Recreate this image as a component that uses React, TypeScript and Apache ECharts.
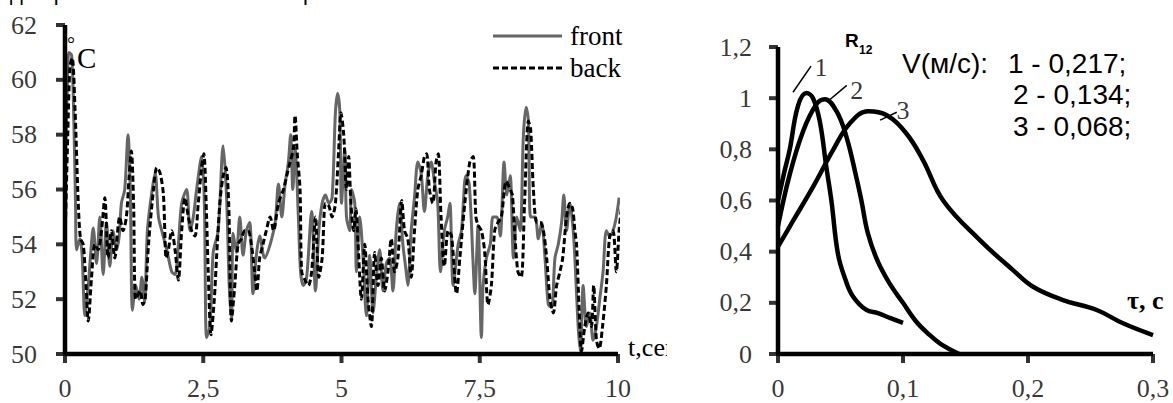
import React, { useEffect, useRef } from "react";
import * as echarts from "echarts";

// ---------- Left chart: temperature, front / back ----------
const frontT = [0.00,0.04,0.07,0.12,0.16,0.19,0.21,0.27,0.31,0.36,0.42,0.47,0.51,0.57,0.63,0.69,0.75,0.81,0.87,0.93,0.98,1.02,1.08,1.14,1.18,1.22,1.28,1.34,1.39,1.44,1.49,1.57,1.63,1.69,1.75,1.84,1.93,1.99,2.05,2.11,2.20,2.26,2.32,2.38,2.47,2.52,2.56,2.62,2.68,2.77,2.86,2.92,2.97,3.01,3.04,3.10,3.16,3.22,3.28,3.34,3.40,3.46,3.52,3.61,3.71,3.80,3.86,3.92,3.98,4.04,4.08,4.12,4.16,4.22,4.26,4.31,4.37,4.46,4.53,4.59,4.65,4.71,4.77,4.83,4.89,4.93,4.97,5.00,5.06,5.09,5.15,5.18,5.24,5.27,5.33,5.39,5.45,5.51,5.57,5.63,5.69,5.75,5.81,5.87,5.93,5.99,6.05,6.11,6.17,6.20,6.26,6.32,6.38,6.44,6.50,6.56,6.62,6.68,6.74,6.79,6.86,6.92,6.96,7.02,7.11,7.17,7.25,7.31,7.38,7.41,7.47,7.53,7.56,7.62,7.69,7.74,7.81,7.87,7.94,7.99,8.05,8.11,8.17,8.23,8.29,8.34,8.38,8.42,8.50,8.56,8.62,8.68,8.74,8.80,8.86,8.92,8.98,9.02,9.07,9.13,9.19,9.22,9.28,9.32,9.37,9.43,9.49,9.55,9.61,9.67,9.73,9.79,9.85,9.91,9.97,10.02];
const frontV = [56.5,59.5,61.0,60.9,58.5,55.5,53.8,54.2,53.6,51.4,52.5,53.8,54.6,53.3,55.0,52.9,54.8,53.2,54.5,53.8,54.3,55.5,56.0,58.0,56.0,51.6,52.5,52.0,52.8,51.9,54.5,55.9,56.6,55.0,54.5,53.8,53.0,52.9,54.0,55.5,56.0,54.5,55.0,56.0,57.2,55.5,50.6,51.0,53.7,54.5,57.6,55.8,52.5,51.3,54.4,53.7,55.0,53.6,54.5,54.8,52.2,53.6,54.3,53.5,54.0,54.8,56.2,55.0,56.2,57.0,58.0,56.0,57.5,55.0,53.0,52.5,52.8,55.2,52.3,54.5,55.5,55.8,55.5,55.7,58.8,59.5,58.8,55.5,57.5,55.0,54.5,56.0,55.5,53.0,55.0,53.5,51.4,53.6,51.5,52.8,53.8,52.3,53.3,53.5,52.3,54.5,55.5,54.0,53.0,52.5,54.5,55.7,57.0,56.6,55.2,56.5,57.0,56.3,55.5,53.0,54.5,55.0,55.5,52.5,54.0,54.5,56.5,56.2,53.3,52.2,54.7,50.6,52.5,53.5,54.0,55.0,55.0,54.3,57.0,55.8,56.5,53.5,55.0,54.5,58.0,59.0,58.5,55.0,55.0,54.2,54.8,53.5,51.8,51.7,53.5,54.0,54.8,55.8,54.5,55.5,54.5,53.5,51.0,50.1,52.5,51.0,51.5,50.5,51.0,52.0,53.0,54.5,54.3,54.5,55.0,55.7];

const backT = [0.00,0.05,0.09,0.13,0.18,0.24,0.28,0.33,0.38,0.42,0.48,0.54,0.60,0.66,0.72,0.78,0.84,0.90,0.99,1.05,1.11,1.16,1.20,1.24,1.28,1.36,1.41,1.45,1.51,1.60,1.66,1.72,1.78,1.83,1.87,1.93,1.99,2.05,2.11,2.17,2.23,2.29,2.35,2.41,2.47,2.51,2.56,2.59,2.64,2.70,2.74,2.80,2.86,2.91,2.96,3.01,3.07,3.13,3.19,3.25,3.31,3.37,3.43,3.47,3.52,3.58,3.64,3.71,3.77,3.86,3.95,4.01,4.07,4.13,4.16,4.20,4.25,4.28,4.34,4.40,4.46,4.53,4.59,4.65,4.71,4.77,4.83,4.89,4.95,4.99,5.04,5.09,5.13,5.17,5.22,5.26,5.30,5.36,5.42,5.48,5.54,5.60,5.66,5.72,5.78,5.84,5.90,5.96,6.02,6.09,6.14,6.20,6.26,6.32,6.38,6.44,6.50,6.54,6.59,6.65,6.71,6.75,6.80,6.86,6.93,6.99,7.08,7.14,7.23,7.32,7.38,7.43,7.47,7.53,7.59,7.65,7.71,7.77,7.83,7.89,7.98,8.05,8.09,8.13,8.19,8.25,8.31,8.38,8.42,8.47,8.53,8.59,8.65,8.71,8.77,8.83,8.89,8.95,9.00,9.07,9.13,9.18,9.22,9.25,9.30,9.34,9.40,9.46,9.52,9.56,9.61,9.66,9.72,9.79,9.85,9.91,9.97,10.02,10.06];
const backV = [54.0,58.0,60.5,60.8,59.0,55.5,54.2,54.0,52.5,51.2,52.8,54.0,53.8,54.5,55.7,53.5,54.5,53.5,55.0,54.5,55.0,56.5,57.4,55.5,52.0,52.3,51.8,52.0,54.0,56.0,56.8,56.6,55.8,53.5,53.8,54.5,53.8,52.7,54.5,55.7,55.0,54.5,54.3,55.5,56.8,57.3,55.0,53.0,50.7,52.0,53.5,55.5,56.5,56.8,55.5,51.2,52.5,54.0,54.2,54.5,54.5,54.0,53.0,52.3,53.5,54.0,54.5,55.0,54.5,55.5,56.0,56.5,57.0,57.5,58.7,57.3,56.0,53.0,52.7,52.5,53.0,55.0,52.8,53.5,55.5,55.4,55.0,55.5,57.5,58.8,58.0,56.0,57.2,55.5,54.5,55.3,54.0,52.0,54.0,52.0,51.0,53.7,52.5,53.5,52.3,53.0,54.2,53.0,53.5,55.6,54.5,54.2,52.8,54.5,56.0,56.5,57.2,57.3,56.0,55.5,57.0,57.3,55.0,53.2,54.5,54.3,52.2,53.5,55.5,57.0,57.2,55.0,54.7,54.5,53.7,51.8,52.5,54.5,54.8,55.0,56.3,56.0,55.8,54.5,53.0,52.8,55.5,58.5,58.2,56.0,54.8,54.8,54.5,53.5,52.0,51.5,52.5,53.0,53.5,55.0,55.5,55.3,54.5,54.0,51.5,50.1,51.0,51.5,51.0,52.5,50.5,50.2,51.0,52.5,54.3,54.5,53.0,54.5,55.3];

// ---------- Right chart: R12(tau) ----------
const curve1T = [0, 0.005, 0.0094, 0.016, 0.0227, 0.028, 0.0334, 0.0387, 0.0427, 0.048, 0.054, 0.06, 0.0707, 0.08, 0.09, 0.1];
const curve1V = [0.6, 0.71, 0.8, 0.97, 1.02, 1.0, 0.91, 0.73, 0.6, 0.39, 0.29, 0.225, 0.172, 0.16, 0.14, 0.122];
const curve2T = [0, 0.0093, 0.02, 0.0307, 0.0374, 0.0467, 0.0547, 0.0627, 0.0667, 0.072, 0.08, 0.09, 0.1, 0.11, 0.12, 0.13, 0.145];
const curve2V = [0.5, 0.7, 0.87, 0.976, 0.996, 0.95, 0.85, 0.69, 0.6, 0.47, 0.36, 0.27, 0.2, 0.13, 0.08, 0.04, 0];
const curve3T = [0, 0.012, 0.028, 0.044, 0.0574, 0.072, 0.0867, 0.1027, 0.116, 0.1321, 0.1615, 0.188, 0.204, 0.228, 0.255, 0.276, 0.3];
const curve3V = [0.42, 0.52, 0.653, 0.797, 0.901, 0.949, 0.934, 0.862, 0.758, 0.6, 0.445, 0.328, 0.263, 0.211, 0.172, 0.12, 0.074];

const curveNames = ["1", "2", "3"];
const curveLabelT = [0.0344, 0.063, 0.1];
const curveLabelV = [1.12, 1.03, 0.953];
const leaderStartT = [0.012, 0.039, 0.0817];
const leaderStartV = [1.023, 0.984, 0.914];
const leaderEndT = [0.0264, 0.055, 0.095];
const leaderEndV = [1.125, 1.05, 0.945];

const velocityLabels = ["1 - 0,217;", "2 - 0,134;", "3 - 0,068;"];

// ---------- Tick values ----------
const leftXTicks = [0, 2.5, 5, 7.5, 10];
const leftYTicks = [50, 52, 54, 56, 58, 60, 62];
const rightXTicks = [0, 0.1, 0.2, 0.3];
const rightYTicks = [0, 0.2, 0.4, 0.6, 0.8, 1, 1.2];

const SERIF = "Liberation Serif";
const SANS = "Liberation Sans";

const fmt = (v: number) => String(Math.round(v * 100) / 100).replace(".", ",");
const pairs = (t: number[], v: number[]) => t.map((x, i) => [x, v[i]]);

const hiddenAxis = {
  axisLine: { show: false },
  axisTick: { show: false },
  axisLabel: { show: false },
  splitLine: { show: false },
};

// Axis line, ticks and tick labels drawn as series in the axis' own coordinates
function axisSeries(idx: number, xt: number[], yt: number[], xMargin: number, yMargin: number): any[] {
  const xmin = xt[0], xmax = xt[xt.length - 1], ymin = yt[0], ymax = yt[yt.length - 1];
  const common = { xAxisIndex: idx, yAxisIndex: idx, clip: false, silent: true, z: 6 };
  const label = (position: string, distance: number, pick: number) => ({
    show: true, position, distance, fontFamily: SERIF, fontSize: 26, color: "#000",
    formatter: (p: any) => fmt(p.value[pick]),
  });
  return [
    { ...common, name: "axX" + idx, type: "line", symbol: "none", data: [[xmin, ymin], [xmax, ymin]], lineStyle: { color: "#000", width: 4.5 } },
    { ...common, name: "axY" + idx, type: "line", symbol: "none", data: [[xmin, ymin], [xmin, ymax]], lineStyle: { color: "#000", width: 4.5 } },
    { ...common, name: "tkX" + idx, type: "scatter", symbol: "rect", symbolSize: [4, 9], symbolOffset: [0, 4.5], itemStyle: { color: "#000" }, data: xt.map((t) => [t, ymin]) },
    { ...common, name: "tkY" + idx, type: "scatter", symbol: "rect", symbolSize: [9, 4], symbolOffset: [-4.5, 0], itemStyle: { color: "#000" }, data: yt.map((v) => [xmin, v]) },
    { ...common, name: "lbX" + idx, type: "scatter", symbolSize: 0, data: xt.map((t) => [t, ymin]), label: label("bottom", xMargin, 0) },
    { ...common, name: "lbY" + idx, type: "scatter", symbolSize: 0, data: yt.map((v) => [xmin, v]), label: label("left", yMargin, 1) },
  ];
}

function buildOption(): any {
  const series: any[] = [
    {
      name: "front", type: "line", xAxisIndex: 0, yAxisIndex: 0, data: pairs(frontT, frontV),
      symbol: "none", smooth: 0.3, clip: false, lineStyle: { color: "#666666", width: 3 }, z: 2,
    },
    {
      name: "back", type: "line", xAxisIndex: 0, yAxisIndex: 0, data: pairs(backT, backV),
      symbol: "none", smooth: 0.3, clip: false, lineStyle: { color: "#000", width: 3, type: [6, 3] }, z: 3,
    },
  ];
  const curves = [pairs(curve1T, curve1V), pairs(curve2T, curve2V), pairs(curve3T, curve3V)];
  curves.forEach((d, i) => {
    series.push({
      name: "curve" + curveNames[i], type: "line", xAxisIndex: 1, yAxisIndex: 1, data: d,
      symbol: "none", smooth: 0.4, clip: false, lineStyle: { color: "#000", width: 4.5 },
    });
  });
  curveNames.forEach((n, i) => {
    series.push({
      name: "leader" + n, type: "line", xAxisIndex: 1, yAxisIndex: 1, symbol: "none", clip: false,
      data: [[leaderStartT[i], leaderStartV[i]], [leaderEndT[i], leaderEndV[i]]],
      lineStyle: { color: "#000", width: 1.5 },
    });
  });
  series.push({
    name: "labels", type: "scatter", xAxisIndex: 1, yAxisIndex: 1, symbolSize: 0, clip: false,
    data: curveNames.map((n, i) => [curveLabelT[i], curveLabelV[i], n]),
    label: { show: true, position: "inside", formatter: (p: any) => p.value[2], fontFamily: SERIF, fontSize: 26, color: "#000" },
  });
  series.push(...axisSeries(0, leftXTicks, leftYTicks, 21, 28));
  series.push(...axisSeries(1, rightXTicks, rightYTicks, 21, 26));

  return {
    animation: false,
    backgroundColor: "#fff",
    grid: [
      { left: 65, top: 25, width: 553, height: 329 },
      { left: 778, top: 47, width: 375, height: 307 },
    ],
    xAxis: [
      { type: "value", gridIndex: 0, min: 0, max: 10, interval: 2.5, ...hiddenAxis },
      { type: "value", gridIndex: 1, min: 0, max: 0.3, interval: 0.1, ...hiddenAxis },
    ],
    yAxis: [
      { type: "value", gridIndex: 0, min: 50, max: 62, interval: 2, ...hiddenAxis },
      { type: "value", gridIndex: 1, min: 0, max: 1.2, interval: 0.2, ...hiddenAxis },
    ],
    series,
    graphic: [
      { type: "text", left: 10, top: -19, style: { text: "для различных значений скорости потока.", fontFamily: SANS, fontSize: 22, fill: "#000" } },
      { type: "text", x: 67, y: 44, style: { text: "°", fontFamily: SERIF, fontSize: 20, fill: "#000", verticalAlign: "middle" } },
      { type: "text", x: 77, y: 58, style: { text: "C", fontFamily: SERIF, fontSize: 29, fill: "#000", verticalAlign: "middle" } },
      { type: "text", x: 628, y: 347, style: { text: "t,сек", fontFamily: SERIF, fontSize: 26, fill: "#000", verticalAlign: "middle" } },
      { type: "rect", z: 100, shape: { x: 667, y: 325, width: 40, height: 40 }, style: { fill: "#fff" } },
      { type: "line", shape: { x1: 493, y1: 36, x2: 562, y2: 36 }, style: { stroke: "#666666", lineWidth: 3 } },
      { type: "line", shape: { x1: 493, y1: 68, x2: 562, y2: 68 }, style: { stroke: "#000", lineWidth: 3, lineDash: [6, 3] } },
      { type: "text", x: 570, y: 36, style: { text: "front", fontFamily: SERIF, fontSize: 27, fill: "#000", verticalAlign: "middle" } },
      { type: "text", x: 570, y: 68, style: { text: "back", fontFamily: SERIF, fontSize: 27, fill: "#000", verticalAlign: "middle" } },
      { type: "text", x: 845, y: 40, style: { text: "R", fontFamily: SANS, fontWeight: "bold", fontSize: 19, fill: "#000", verticalAlign: "middle" } },
      { type: "text", x: 859, y: 50, style: { text: "12", fontFamily: SANS, fontWeight: "bold", fontSize: 12, fill: "#000", verticalAlign: "middle" } },
      { type: "text", x: 902, y: 63, style: { text: "V(м/с):", fontFamily: SANS, fontSize: 28, fill: "#000", verticalAlign: "middle" } },
      ...velocityLabels.map((t, i) => ({
        type: "text", x: 1008 + (i === 0 ? 0 : 5), y: 63 + i * 31.5,
        style: { text: t, fontFamily: SANS, fontSize: 28, fill: "#000", verticalAlign: "middle" },
      })),
      { type: "text", x: 1127, y: 300, style: { text: "τ, с", fontFamily: SERIF, fontWeight: "bold", fontSize: 26, fill: "#000", verticalAlign: "middle" } },
    ],
  };
}

export default function App() {
  const ref = useRef<HTMLDivElement>(null);
  useEffect(() => {
    if (!ref.current) return;
    const chart = echarts.init(ref.current, undefined, { renderer: "svg" });
    chart.setOption(buildOption());
    return () => chart.dispose();
  }, []);
  return <div ref={ref} style={{ position: "fixed", left: 0, top: 0, width: 1173, height: 403, background: "#fff" }} />;
}
